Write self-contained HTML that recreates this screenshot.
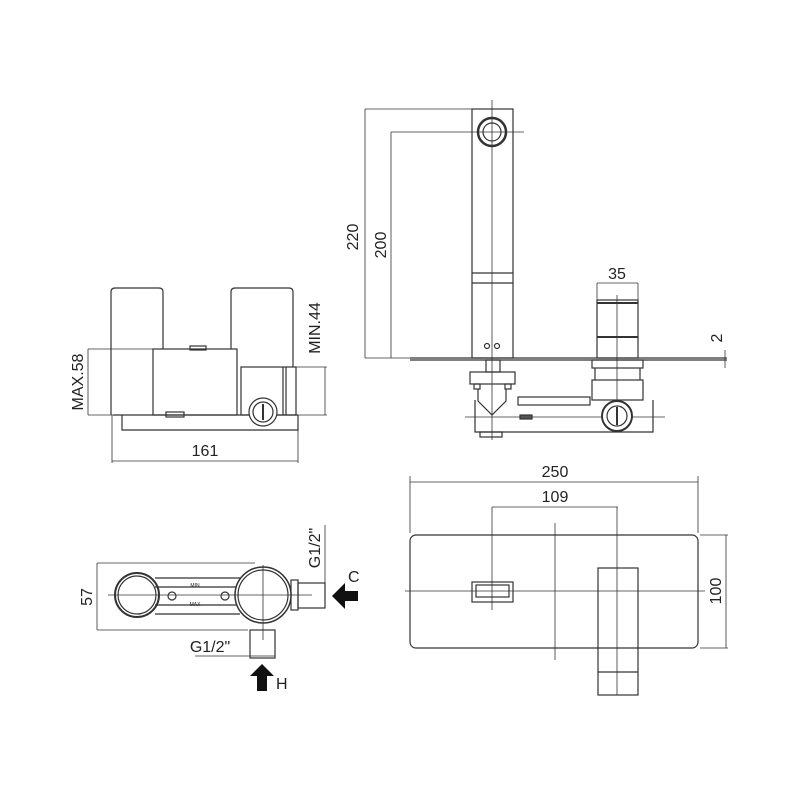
<!DOCTYPE html>
<html><head><style>html,body{margin:0;padding:0;background:#fff}</style></head><body>
<svg width="800" height="800" viewBox="0 0 800 800" xmlns="http://www.w3.org/2000/svg" font-family="Liberation Sans, sans-serif" fill="none" stroke="#333" stroke-width="1.2">
<!-- TOP LEFT -->
<path d="M111 415V292q0-4 4-4h44q4 0 4 4v57"/>
<path d="M231 349V292q0-4 4-4h54q4 0 4 4v75"/>
<rect x="153" y="349" width="84" height="66"/>
<rect x="241" y="367" width="55" height="48"/>
<line x1="283" y1="367" x2="283" y2="415"/><line x1="286" y1="367" x2="286" y2="415"/>
<line x1="113" y1="415" x2="298" y2="415"/>
<path d="M122 415v15h176v-15"/>
<circle cx="263" cy="412" r="14" fill="#fff"/><circle cx="263" cy="412" r="10"/>
<line x1="263" y1="404" x2="263" y2="420" stroke-width="2"/>
<rect x="166" y="412" width="18" height="5"/><rect x="190" y="346" width="16" height="4"/>
<g stroke-width="0.8">
<line x1="88" y1="349" x2="153" y2="349"/><line x1="88" y1="415" x2="113" y2="415"/><line x1="88" y1="349" x2="88" y2="415"/>
<line x1="296" y1="367" x2="327" y2="367"/><line x1="298" y1="415" x2="327" y2="415"/><line x1="325" y1="367" x2="325" y2="415"/>
<line x1="112" y1="461" x2="298" y2="461"/><line x1="112" y1="415" x2="112" y2="463"/><line x1="298" y1="415" x2="298" y2="463"/>
</g>
<g fill="#222" stroke="none" font-size="16">
<text transform="translate(83,382) rotate(-90)" text-anchor="middle">MAX.58</text>
<text transform="translate(320,328) rotate(-90)" text-anchor="middle">MIN.44</text>
<text x="205" y="456" text-anchor="middle">161</text>
</g>
<!-- TOP RIGHT -->
<rect x="472" y="109" width="41" height="249"/>
<line x1="472" y1="273" x2="513" y2="273"/><line x1="472" y1="283" x2="513" y2="283"/>
<circle cx="492" cy="132" r="14" stroke-width="2.5"/><circle cx="492" cy="132" r="9"/>
<circle cx="487" cy="346" r="2.5"/><circle cx="497" cy="346" r="2.5"/>
<g stroke-width="0.8">
<line x1="492" y1="100" x2="492" y2="440"/><line x1="391" y1="132" x2="524" y2="132"/>
<line x1="365" y1="109" x2="472" y2="109"/><line x1="365" y1="109" x2="365" y2="358"/><line x1="391" y1="132" x2="391" y2="358"/>
<line x1="365" y1="358" x2="410" y2="358"/>
<line x1="617" y1="295" x2="617" y2="432"/>
<line x1="597" y1="283" x2="638" y2="283"/><line x1="597" y1="283" x2="597" y2="300"/><line x1="638" y1="283" x2="638" y2="300"/>
<line x1="725" y1="350" x2="725" y2="368"/>
<line x1="465" y1="417" x2="665" y2="417"/>
</g>
<line x1="410" y1="358" x2="727" y2="358"/><line x1="410" y1="360" x2="727" y2="360"/>
<rect x="597" y="300" width="41" height="58"/>
<line x1="597" y1="303" x2="638" y2="303" stroke-width="2"/><line x1="597" y1="337" x2="638" y2="337" stroke-width="2"/>
<rect x="592" y="360" width="51" height="8"/>
<rect x="592" y="380" width="51" height="20"/>
<line x1="595" y1="368" x2="595" y2="380"/><line x1="640" y1="368" x2="640" y2="380"/>
<rect x="486" y="360" width="14" height="12"/>
<rect x="470" y="372" width="45" height="12"/>
<rect x="474" y="384" width="6" height="5"/><rect x="505" y="384" width="6" height="5"/>
<path d="M478 389v12l14 14 14-14v-12"/>
<path d="M475 400v32h178v-32"/>
<rect x="480" y="432" width="22" height="5"/>
<rect x="518" y="397" width="72" height="8"/>
<rect x="520" y="415" width="12" height="4" fill="#555"/>
<circle cx="617" cy="416" r="15" fill="#fff" stroke-width="2"/><circle cx="617" cy="416" r="10"/>
<line x1="617" y1="407" x2="617" y2="425" stroke-width="2"/>
<g fill="#222" stroke="none" font-size="16">
<text transform="translate(358,237) rotate(-90)" text-anchor="middle">220</text>
<text transform="translate(386,245) rotate(-90)" text-anchor="middle">200</text>
<text x="617" y="279" text-anchor="middle">35</text>
<text transform="translate(722,338) rotate(-90)" text-anchor="middle">2</text>
</g>
<!-- BOTTOM LEFT -->
<path d="M97 563H255M97 630H248" stroke-width="0.8"/>
<line x1="97" y1="563" x2="97" y2="630" stroke-width="0.8"/>
<circle cx="137" cy="595" r="22" stroke-width="2"/><circle cx="137" cy="595" r="19"/>
<line x1="155" y1="578" x2="240" y2="578"/><line x1="155" y1="587" x2="240" y2="587"/><line x1="155" y1="605" x2="240" y2="605"/><line x1="155" y1="614" x2="240" y2="614"/>
<circle cx="172" cy="596" r="4"/><circle cx="225" cy="596" r="4"/>
<rect x="291" y="580" width="7" height="30"/>
<rect x="298" y="583" width="27" height="25"/>
<circle cx="263" cy="595" r="28" fill="#fff" stroke-width="1.5"/><circle cx="263" cy="595" r="25"/>
<rect x="250" y="630" width="25" height="28"/>
<g stroke-width="0.8">
<line x1="108" y1="595" x2="312" y2="595"/><line x1="263" y1="565" x2="263" y2="640"/>
<line x1="325" y1="525" x2="325" y2="608"/><line x1="195" y1="656" x2="275" y2="656"/>
</g>
<path d="M332 596l13-13v8h13v10h-13v8z" fill="#111" stroke="none"/>
<path d="M262 664l-12 12h7v15h10v-15h7z" fill="#111" stroke="none"/>
<g fill="#222" stroke="none" font-size="16">
<text transform="translate(320,548) rotate(-90)" text-anchor="middle">G1/2"</text>
<text x="210" y="652" text-anchor="middle">G1/2"</text>
<text transform="translate(92,597) rotate(-90)" text-anchor="middle">57</text>
<text x="348" y="582">C</text>
<text x="276" y="689">H</text>
<text x="195" y="587" font-size="5" text-anchor="middle">MIN</text>
<text x="195" y="606" font-size="5" text-anchor="middle">MAX</text>
</g>
<!-- BOTTOM RIGHT -->
<rect x="410" y="535" width="288" height="113" rx="6"/>
<g stroke-width="0.8">
<line x1="410" y1="482" x2="698" y2="482"/><line x1="410" y1="476" x2="410" y2="533"/><line x1="698" y1="476" x2="698" y2="533"/>
<line x1="492" y1="507" x2="618" y2="507"/><line x1="492" y1="507" x2="492" y2="610"/><line x1="617" y1="507" x2="617" y2="695"/>
<line x1="405" y1="591" x2="705" y2="591"/><line x1="555" y1="523" x2="555" y2="660"/>
<line x1="700" y1="535" x2="728" y2="535"/><line x1="700" y1="648" x2="728" y2="648"/><line x1="726" y1="535" x2="726" y2="648"/>
</g>
<rect x="472" y="582" width="41" height="20"/><rect x="476" y="585" width="33" height="12"/>
<rect x="598" y="568" width="40" height="127" fill="none"/>
<line x1="598" y1="672" x2="638" y2="672"/>
<g fill="#222" stroke="none" font-size="16">
<text x="555" y="477" text-anchor="middle">250</text>
<text x="555" y="502" text-anchor="middle">109</text>
<text transform="translate(721,591) rotate(-90)" text-anchor="middle">100</text>
</g>
</svg>
</body></html>
